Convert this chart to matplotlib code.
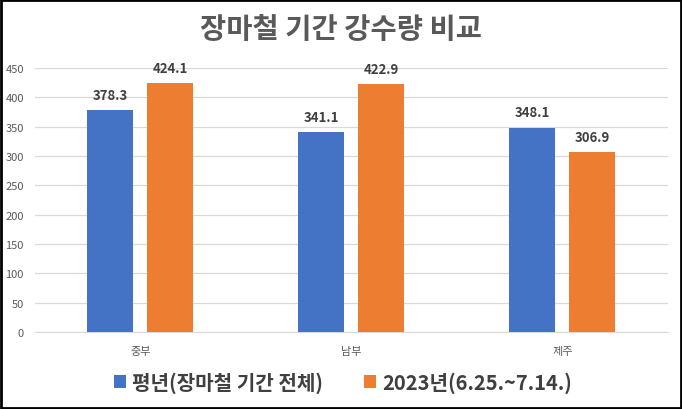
import matplotlib
matplotlib.use("Agg")
import matplotlib.pyplot as plt
from matplotlib.patches import Rectangle
import numpy as np

plt.rcParams['font.family'] = ['Noto Sans CJK KR', 'DejaVu Sans']

categories = ['중부', '남부', '제주']
series_names = ['평년(장마철 기간 전체)', '2023년(6.25.~7.14.)']
normal_vals = [378.3, 341.1, 348.1]
y2023_vals = [424.1, 422.9, 306.9]
yticks = [0, 50, 100, 150, 200, 250, 300, 350, 400, 450]
title = '장마철 기간 강수량 비교'

blue = '#4472C4'
orange = '#ED7D31'

fig = plt.figure(figsize=(6.82, 4.10), dpi=100)
ax = fig.add_axes([35/682, 1-333/410, (668-35)/682, (333-69)/410])

x = np.arange(len(categories))
w = 46/211
off = 30/211
b1 = ax.bar(x - off, normal_vals, w, color=blue, label=series_names[0], zorder=3)
b2 = ax.bar(x + off, y2023_vals, w, color=orange, label=series_names[1], zorder=3)

for bars, vals in ((b1, normal_vals), (b2, y2023_vals)):
    for r, v in zip(bars, vals):
        ax.annotate(f'{v:.1f}', (r.get_x() + r.get_width()/2, v),
                    xytext=(0, 6), textcoords='offset points',
                    ha='center', va='bottom', fontsize=9.5, fontweight='bold',
                    color='#404040')

ax.set_xlim(-0.5, 2.5)
ax.set_ylim(0, 450)
ax.set_yticks(yticks)
ax.set_yticklabels([str(t) for t in yticks], fontsize=8, color='#595959')
ax.set_xticks(x)
ax.set_xticklabels(categories, fontsize=8, color='#595959')
ax.tick_params(axis='both', length=0)
ax.tick_params(axis='x', pad=10)
ax.tick_params(axis='y', pad=8)
ax.grid(axis='y', color='#D9D9D9', linewidth=0.9, zorder=0)
for s in ['top', 'right', 'left']:
    ax.spines[s].set_visible(False)
ax.spines['bottom'].set_color('#D9D9D9')

fig.text(0.5, 1-30/410, title, ha='center', va='center', fontsize=20.5,
         fontweight='bold', color='#595959')

leg = fig.legend(handles=[b1, b2], loc='center', bbox_to_anchor=(0.503, 1-383/410),
                 ncol=2, frameon=False, prop={'size': 14.5, 'weight': 'bold'},
                 handlelength=0.6, handleheight=0.6, handletextpad=0.3,
                 columnspacing=2.0)
for t in leg.get_texts():
    t.set_color('#404040')

fig.patches.append(Rectangle((0.0015, 0.0025), 0.997, 0.995, transform=fig.transFigure,
                             fill=False, edgecolor='black', linewidth=2))

fig.savefig('out.png', dpi=100)
